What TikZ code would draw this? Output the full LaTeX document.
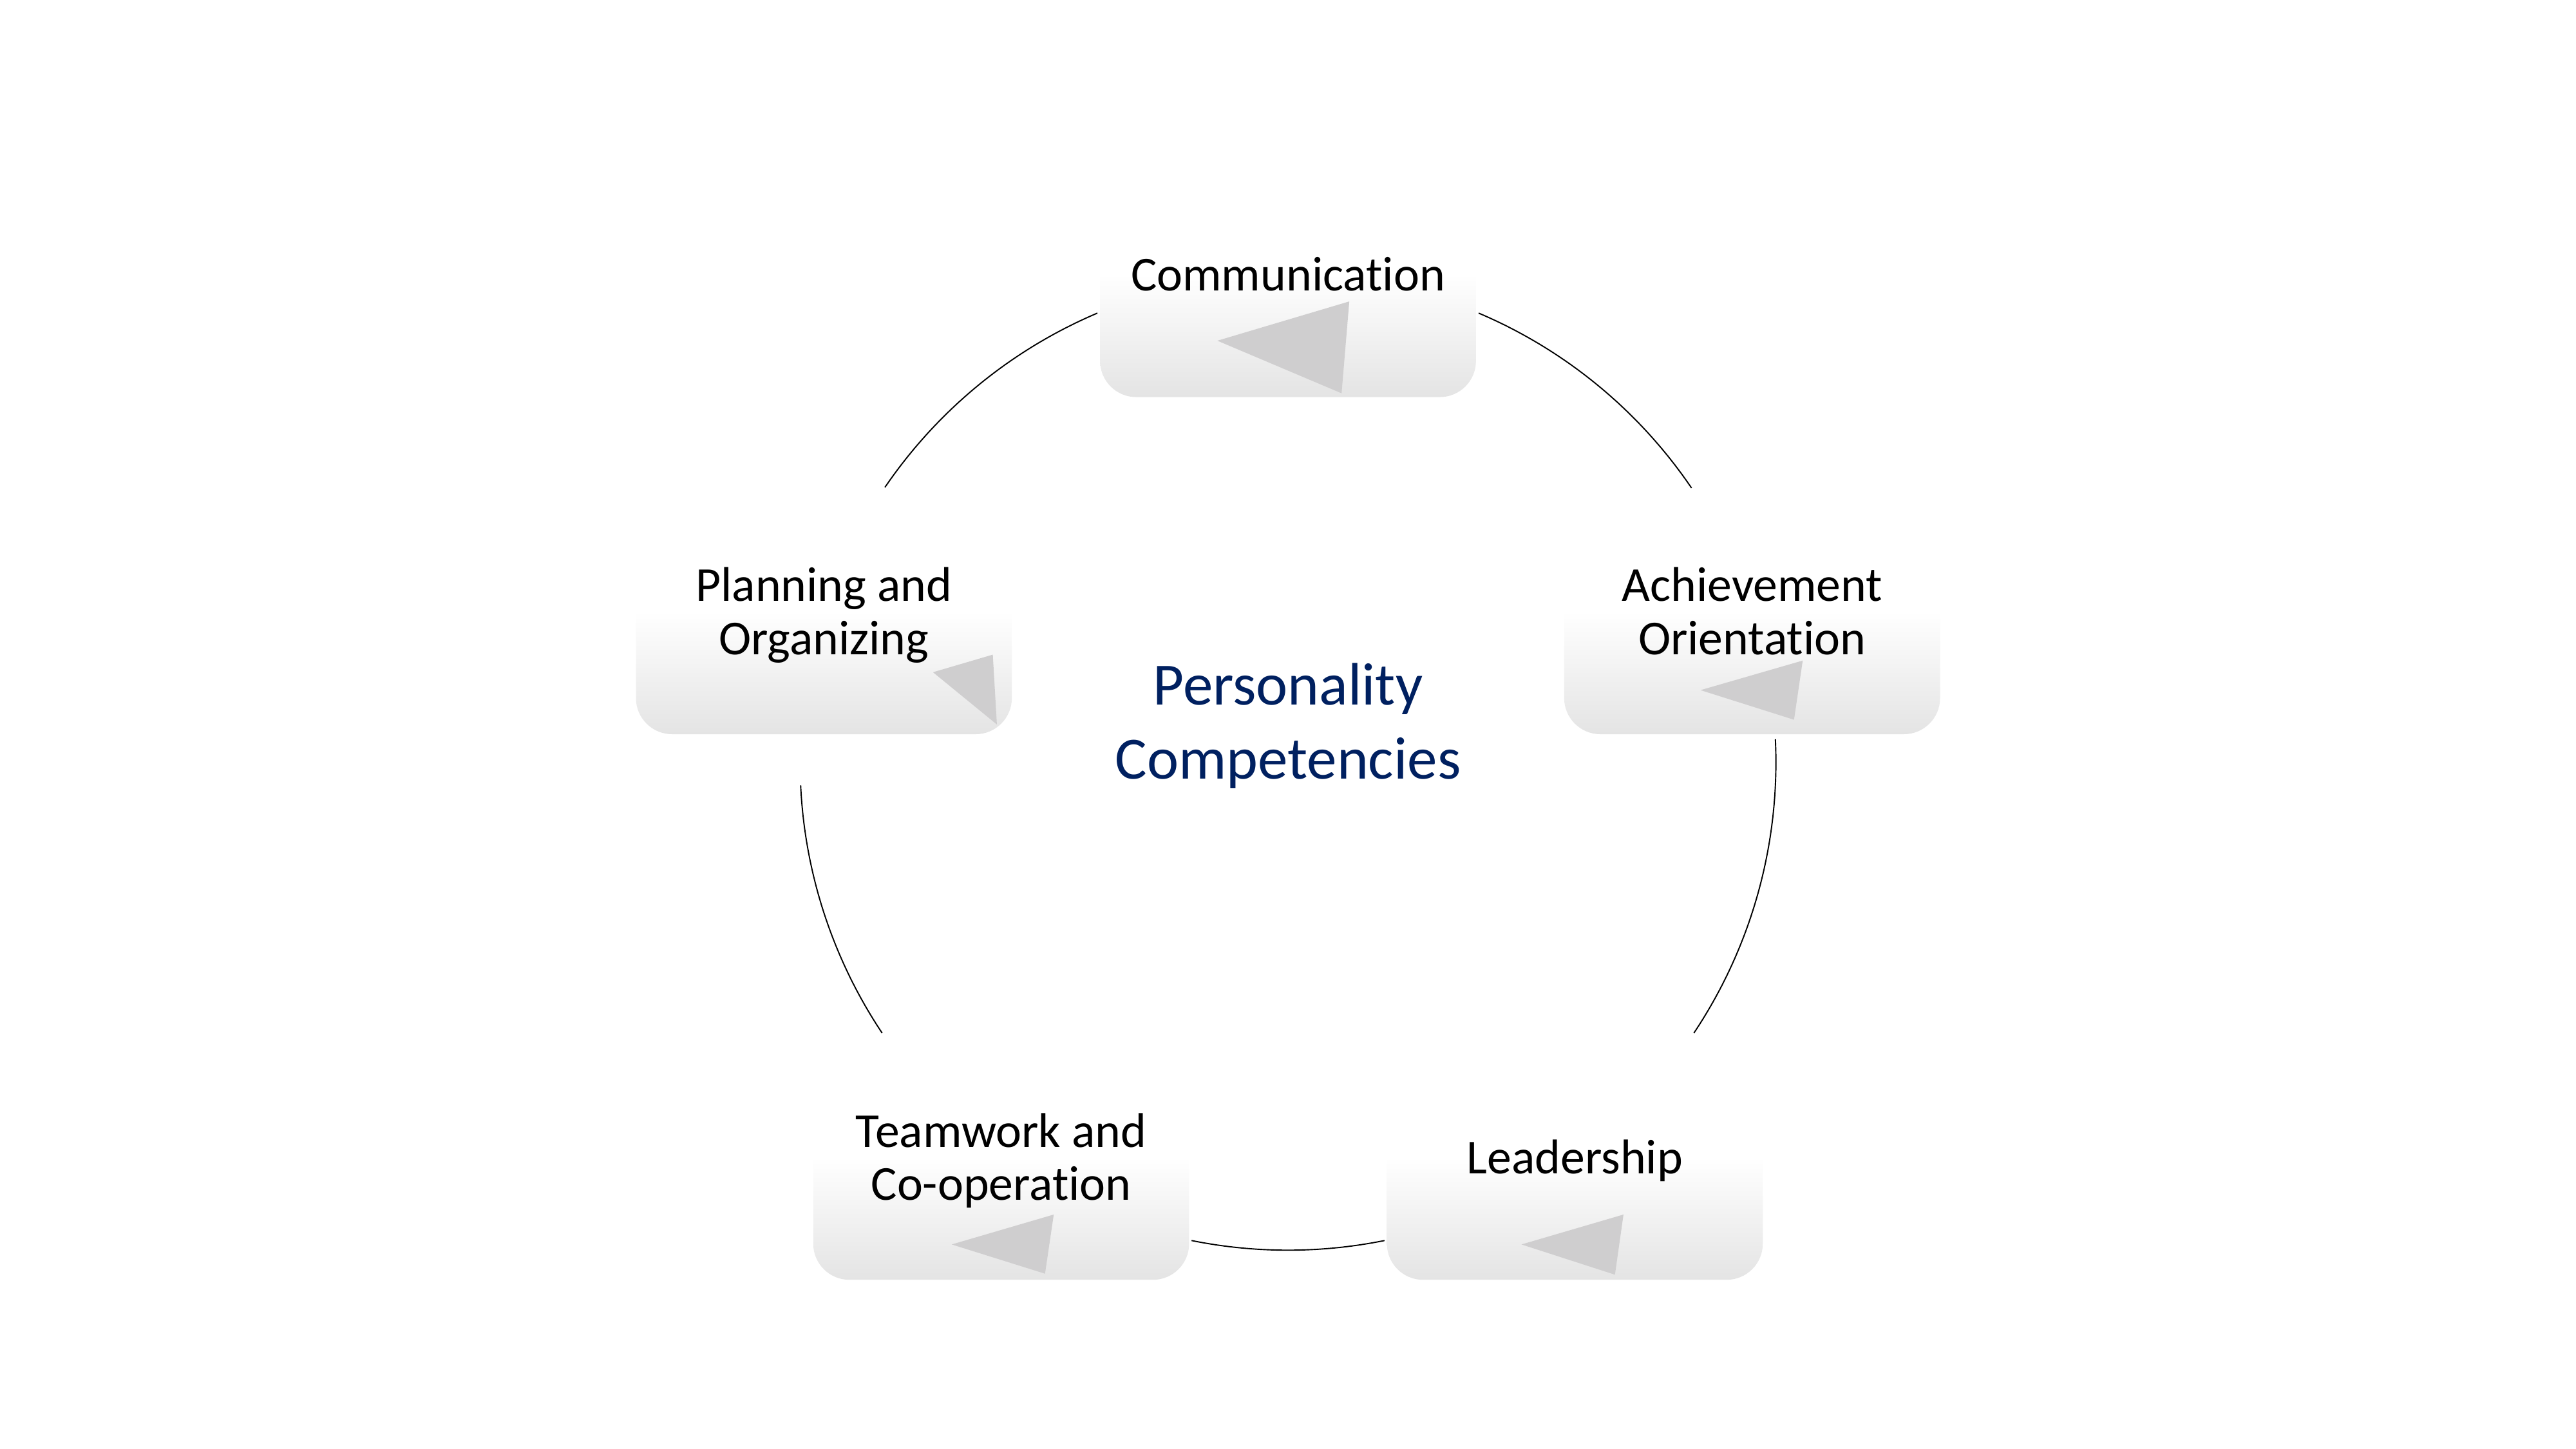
\documentclass[tikz,border=0pt]{standalone}
\usepackage{fontspec}
\setmainfont{Carlito}[Ligatures=NoCommon]
\definecolor{boxbot}{RGB}{228,228,228}
\definecolor{trigray}{RGB}{207,206,207}
\definecolor{navy}{RGB}{0,32,96}
\pgfdeclareverticalshading{boxshade}{100bp}{color(0bp)=(boxbot); color(25bp)=(boxbot); color(50bp)=(white); color(100bp)=(white)}
\begin{document}
\begin{tikzpicture}[x=1pt,y=1pt,
  box/.style={rectangle, rounded corners=22pt, minimum width=228.8pt, minimum height=149.4pt, shading=boxshade, inner sep=0pt},
  lbl/.style={anchor=base, inner sep=0pt, font=\fontsize{29.7}{32.4}\selectfont, text=black},
  tri/.style={fill=trigray, draw=none},
  ring/.style={draw=black, line width=0.75pt}]
\useasboundingbox (0,0) rectangle (1568,882);
\fill[white] (0,0) rectangle (1568,882);
\coordinate (c) at (784,418);
% connectors (arcs of the cycle)
\draw[ring] ([shift={(67:297)}]c) arc[start angle=67, end angle=34.2, radius=297];
\draw[ring] ([shift={(2.7:297)}]c) arc[start angle=2.7, end angle=-33.7, radius=297];
\draw[ring] ([shift={(-78.6:297)}]c) arc[start angle=-78.6, end angle=-101.4, radius=297];
\draw[ring] ([shift={(213.7:297)}]c) arc[start angle=213.7, end angle=182.7, radius=297];
\draw[ring] ([shift={(145.7:297)}]c) arc[start angle=145.7, end angle=113, radius=297];
% boxes
\node[box] (comm) at (784,715) {};
\node[box] (ach) at (1066.5,509.8) {};
\node[box] (lead) at (958.6,177.7) {};
\node[box] (team) at (609.4,177.7) {};
\node[box] (plan) at (501.5,509.8) {};
% triangles
\fill[tri] (741,674.6) -- (821.3,698.5) -- (816.6,642.6) -- cycle;
\fill[tri] (1035.1,461.9) -- (1097.3,479.9) -- (1092,443.9) -- cycle;
\fill[tri] (926.1,124.5) -- (988.2,142.7) -- (983,106.1) -- cycle;
\fill[tri] (579.3,124.5) -- (641.4,142.7) -- (636.1,106.7) -- cycle;
\fill[tri] (567.9,472.8) -- (604.3,483.5) -- (606.8,441) -- cycle;
% labels
\node[lbl] (commtxt) at ([yshift=-10.1pt]comm.center) {Communication};
\node[lbl] (achtxt) at ([yshift=6.1pt]ach.center) {\begin{tabular}[t]{@{}c@{}}Achievement\\Orientation\end{tabular}};
\node[lbl] (leadtxt) at ([yshift=-10.2pt]lead.center) {Leadership};
\node[lbl] (teamtxt) at ([yshift=6.1pt]team.center) {\begin{tabular}[t]{@{}c@{}}Teamwork and\\Co-operation\end{tabular}};
\node[lbl] (plantxt) at ([yshift=6.1pt]plan.center) {\begin{tabular}[t]{@{}c@{}}Planning and\\Organizing\end{tabular}};
\node[anchor=base, inner sep=0pt, font=\fontsize{36.5}{45.2}\selectfont, text=navy] (core) at (784,453.1) {\begin{tabular}[t]{@{}c@{}}Personality\\Competencies\end{tabular}};
\end{tikzpicture}
\end{document}
